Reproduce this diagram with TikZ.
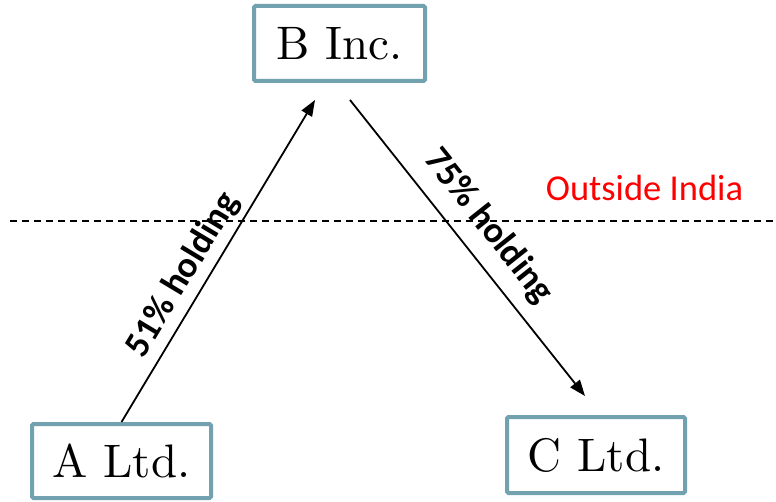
\documentclass[tikz,border=0pt]{standalone}
\usepackage{fontspec}
\newfontfamily\labelfont{Carlito}
\newfontfamily\boxfont{lmroman10-regular}[Extension=.otf]
\usetikzlibrary{arrows.meta,calc}
\definecolor{boxedge}{RGB}{114,161,176}
\definecolor{regionred}{RGB}{255,0,0}
\begin{document}
\begin{tikzpicture}[x=1pt,y=-1pt,
  entity/.style={draw=boxedge, line width=4pt, fill=white, rounded corners=1.5pt,
    inner sep=0pt, font=\boxfont\fontsize{47}{56}\selectfont},
  holding/.style={line width=1.8pt, -{Triangle[length=16pt,width=12pt]}},
  share/.style={font=\labelfont\bfseries\fontsize{36.5}{42}\selectfont, sloped, inner sep=0pt},
  border/.style={dashed, line width=1.3pt, dash pattern=on 7pt off 5pt}]
  \useasboundingbox (0,0) rectangle (776,502);

  % companies
  \node[entity, minimum width=171pt, minimum height=75pt] (B) at (339.5,43.5) {B Inc.};
  \node[entity, minimum width=179pt, minimum height=74pt] (A) at (121.5,461) {A Ltd.};
  \node[entity, minimum width=178pt, minimum height=76pt] (C) at (596,455) {C Ltd.};

  % arrow end points near the boxes
  \coordinate (bIn)  at ($(B.south)+(-24.5,17)$);
  \coordinate (bOut) at ($(B.south)+(10.5,17)$);
  \coordinate (cIn)  at ($(C.north)+(-11,-19)$);

  % jurisdiction border
  \coordinate (borderL) at (10,221);
  \coordinate (borderR) at (776,221);
  \draw[border] (borderL) -- (borderR);
  \node[font=\labelfont\fontsize{36.5}{42}\selectfont, text=regionred, inner sep=0pt]
    (outside) at (644.5,188) {Outside India};

  % shareholdings
  \draw[holding] (A.north) -- node[share, pos=0.42, above=6pt] (h51) {51\% holding} (bIn);
  \draw[holding] (bOut) -- node[share, pos=0.49, above=13pt] (h75) {75\% holding} (cIn);
\end{tikzpicture}
\end{document}
